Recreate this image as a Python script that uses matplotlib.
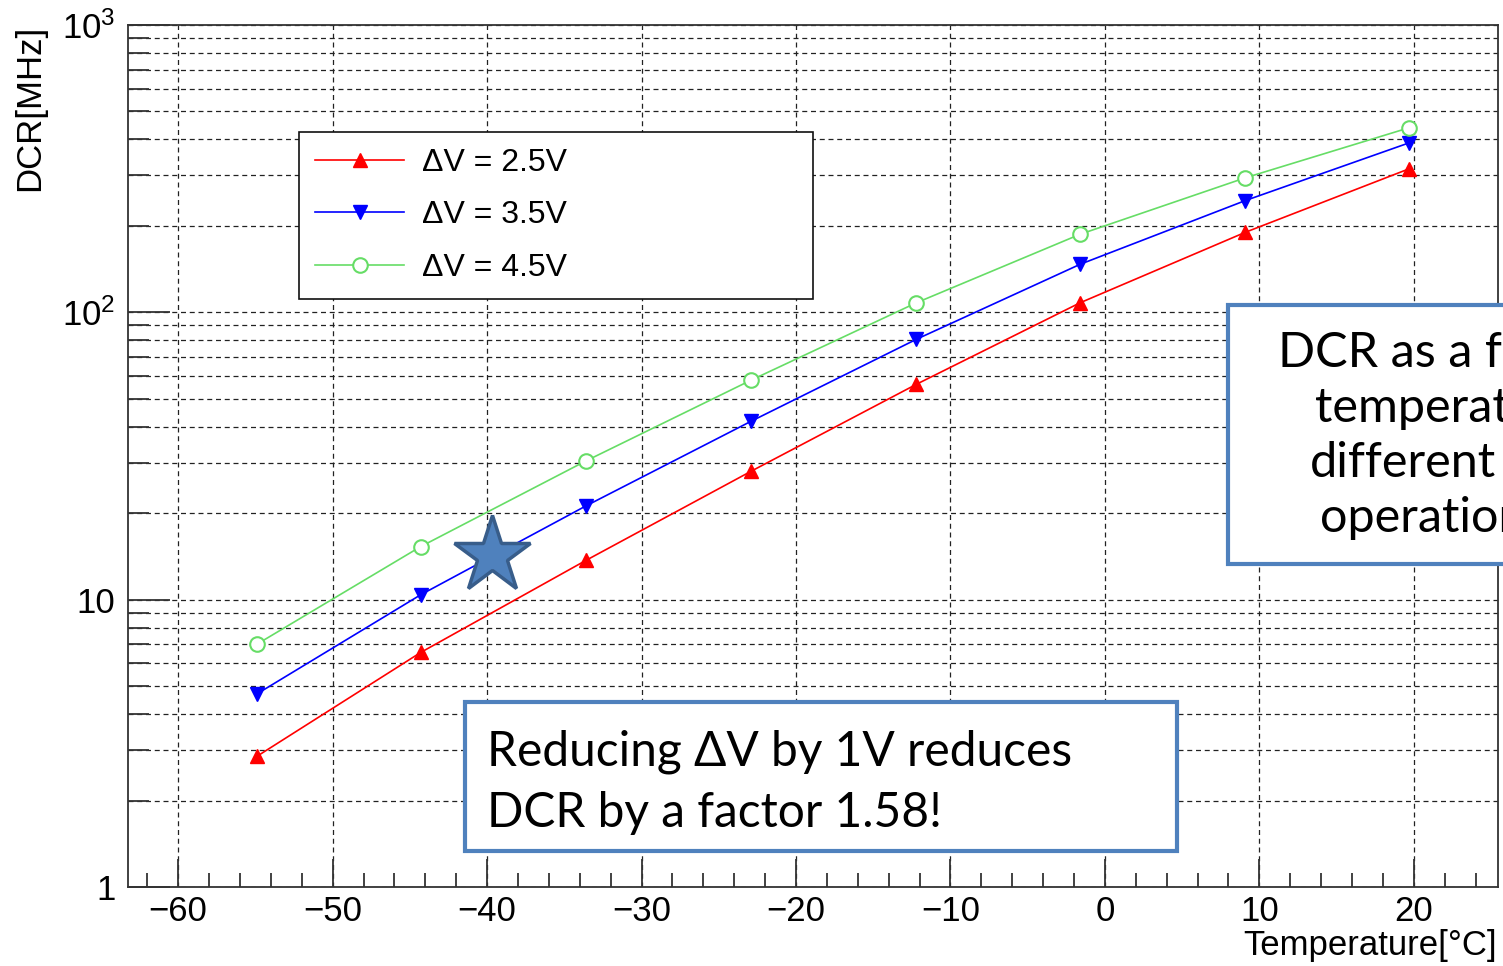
import matplotlib
matplotlib.use("Agg")
import matplotlib.pyplot as plt
from matplotlib.patches import Rectangle
from matplotlib.ticker import FixedLocator, FixedFormatter, MultipleLocator, NullFormatter

plt.rcParams['font.family'] = ['Liberation Sans', 'DejaVu Sans']
plt.rcParams['mathtext.fontset'] = 'custom'
plt.rcParams['mathtext.rm'] = 'Liberation Sans'
plt.rcParams['mathtext.it'] = 'Liberation Sans'

# temperature points (deg C) and dark count rate (MHz) per overvoltage
temperature = [-54.9, -44.3, -33.6, -22.9, -12.2, -1.6, 9.1, 19.7]
dcr_25 = [2.85, 6.55, 13.7, 28.0, 56.2, 108, 190, 316]
dcr_35 = [4.7, 10.4, 21.2, 41.8, 80.6, 147, 245, 389]
dcr_45 = [7.0, 15.3, 30.4, 58.1, 108, 187, 294, 439]
labels = ['ΔV = 2.5V', 'ΔV = 3.5V', 'ΔV = 4.5V']

yticks = [1, 10, 100, 1000]
ytick_labels = ['1', '10', '$10^{2}$', '$10^{3}$']
xticks = [-60, -50, -40, -30, -20, -10, 0, 10, 20]

star_x, star_y = -39.7, 14.3

W, H = 1503, 966
fig = plt.figure(figsize=(W / 100, H / 100), dpi=100)
ax = fig.add_axes([128 / W, 1 - 887 / H, 1370 / W, 862 / H])

ax.plot(temperature, dcr_25, color='#ff0000', lw=1.2, marker='^', ms=9.5, label=labels[0])
ax.plot(temperature, dcr_35, color='#0000ff', lw=1.2, marker='v', ms=9.5, label=labels[1])
ax.plot(temperature, dcr_45, color='#66dd66', lw=1.2, marker='o', ms=10.5, mfc='white',
        mew=1.5, label=labels[2])

ax.plot([star_x], [star_y], marker='*', ms=58, color='#4f81bd', mec='#385d8a', mew=2.5,
        zorder=5)

ax.set_yscale('log')
ax.set_xlim(-63.25, 25.45)
ax.set_ylim(1, 1000)

ax.yaxis.set_major_locator(FixedLocator(yticks))
ax.yaxis.set_major_formatter(FixedFormatter(ytick_labels))
ax.yaxis.set_minor_formatter(NullFormatter())
ax.xaxis.set_major_locator(FixedLocator(xticks))
ax.xaxis.set_minor_locator(MultipleLocator(2))

ax.tick_params(which='both', direction='in', top=False, right=False, color='#333333',
               labelsize=25)
ax.tick_params(axis='y', which='major', length=30, width=1.3, pad=9)
ax.tick_params(axis='y', which='minor', length=15, width=1.3)
ax.tick_params(axis='x', which='major', length=20, width=1.3, pad=6)
ax.tick_params(axis='x', which='minor', length=10, width=1.3)

ax.grid(which='major', axis='both', ls=(0, (4, 3)), color='#222222', lw=0.9)
ax.grid(which='minor', axis='y', ls=(0, (4, 3)), color='#222222', lw=0.9)
for s in ax.spines.values():
    s.set_color('#333333')
    s.set_linewidth(1.3)

leg = ax.legend(loc='upper left',
                bbox_to_anchor=((299 - 128) / 1370, (887 - 294) / 862, 514 / 1370, 162 / 862),
                mode='expand', borderaxespad=0, fancybox=False, framealpha=1, edgecolor='#111111',
                fontsize=23, handlelength=2.8, handletextpad=0.55, labelspacing=0.7,
                borderpad=0.5, numpoints=1)
leg.get_frame().set_linewidth(1.2)

fig.text(30 / W, 1 - 25 / H, 'DCR[MHz]', rotation=90, ha='center', va='top', fontsize=25)
fig.text(1497 / W, 1 - 955 / H, 'Temperature[°C]', ha='right', va='baseline', fontsize=25)

# callout boxes
box_font = ['Lato', 'DejaVu Sans']
fig.add_artist(Rectangle((465 / W, 1 - 851 / H), 712 / W, 149 / H, transform=fig.transFigure,
                         facecolor='white', edgecolor='#4f81bd', lw=3, zorder=6))
fig.text(487 / W, 1 - 765 / H, 'Reducing ΔV by 1V reduces', fontsize=34.5, family=box_font,
         va='baseline', zorder=7)
fig.text(487 / W, 1 - 827 / H, 'DCR by a factor 1.58!', fontsize=34.5, family=box_font,
         va='baseline', zorder=7)

fig.add_artist(Rectangle((1228 / W, 1 - 564 / H), 400 / W, 259 / H, transform=fig.transFigure,
                         facecolor='white', edgecolor='#4f81bd', lw=3, zorder=6))
side_lines = ['DCR as a function of', 'temperature for', 'different', 'operation voltages']
side_x = [1278, 1315, 1310, 1320]
side_y = [367, 422, 477, 532]
for txt, px, py in zip(side_lines, side_x, side_y):
    fig.text(px / W, 1 - py / H, txt, fontsize=35, family=box_font, va='baseline', zorder=7)

fig.savefig('out.png', dpi=100)
